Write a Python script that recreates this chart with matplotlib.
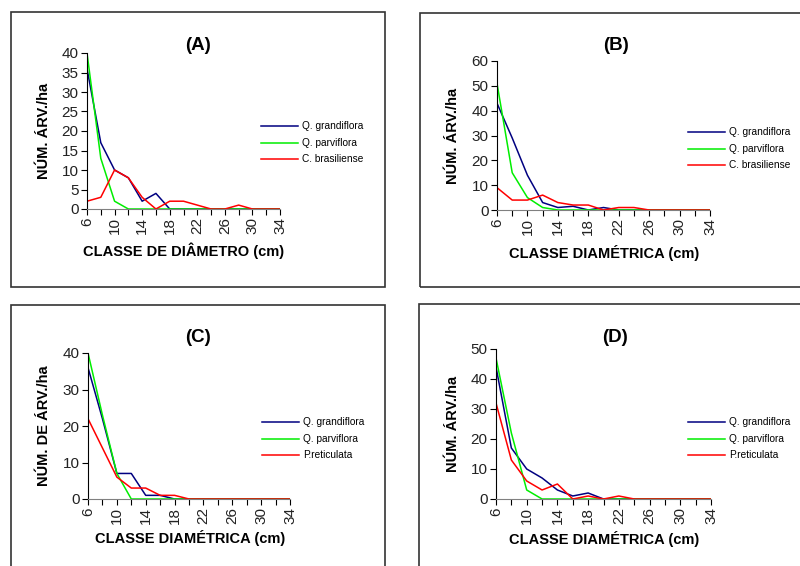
import matplotlib.pyplot as plt
from matplotlib.patches import Rectangle

plt.rcParams['font.family'] = ['Liberation Sans', 'DejaVu Sans']

classes = [6, 8, 10, 12, 14, 16, 18, 20, 22, 24, 26, 28, 30, 32, 34]
tick_labels = [str(c) if i % 2 == 0 else '' for i, c in enumerate(classes)]

# (A)
a_grandiflora = [36, 17, 10, 8, 2, 4, 0, 0, 0, 0, 0, 0, 0, 0, 0]
a_parviflora = [40, 13, 2, 0, 0, 0, 0, 0, 0, 0, 0, 0, 0, 0, 0]
a_brasiliense = [2, 3, 10, 8, 3, 0, 2, 2, 1, 0, 0, 1, 0, 0, 0]
# (B)
b_grandiflora = [43, 29, 14, 3, 1, 1.5, 0, 1, 0, 0, 0, 0, 0, 0, 0]
b_parviflora = [51, 15, 5, 1, 0, 0, 0, 0, 0, 0, 0, 0, 0, 0, 0]
b_brasiliense = [9, 4, 4, 6, 3, 2, 2, 0, 1, 1, 0, 0, 0, 0, 0]
# (C)
c_grandiflora = [36, 22, 7, 7, 1, 1, 0, 0, 0, 0, 0, 0, 0, 0, 0]
c_parviflora = [40, 23, 7, 0, 0, 0, 0, 0, 0, 0, 0, 0, 0, 0, 0]
c_reticulata = [22, 14, 6, 3, 3, 1, 1, 0, 0, 0, 0, 0, 0, 0, 0]
# (D)
d_grandiflora = [44, 17, 10, 7, 3, 1, 2, 0, 0, 0, 0, 0, 0, 0, 0]
d_parviflora = [47, 22, 3, 0, 0, 0, 0, 0, 0, 0, 0, 0, 0, 0, 0]
d_reticulata = [32, 13, 6, 3, 5, 0, 1, 0, 1, 0, 0, 0, 0, 0, 0]

W, H = 800, 566
colors = ['#000080', '#00ee00', '#ff0000']

panels = [
    dict(title='(A)', series=[a_grandiflora, a_parviflora, a_brasiliense],
         names=['Q. grandiflora', 'Q. parviflora', 'C. brasiliense'],
         ymax=40, ystep=5, ylabel='NÚM. ÁRV./ha', xlabel='CLASSE DE DIÂMETRO (cm)',
         ax=(87, 53, 280, 209), box=(11, 12, 385, 287), leg=(261, 126),
         tpos=(198, 45), xlpos=(184, 251), ylx=44),
    dict(title='(B)', series=[b_grandiflora, b_parviflora, b_brasiliense],
         names=['Q. grandiflora', 'Q. parviflora', 'C. brasiliense'],
         ymax=60, ystep=10, ylabel='NÚM. ÁRV./ha', xlabel='CLASSE DIAMÉTRICA (cm)',
         ax=(497, 61, 710, 210), box=(420, 13, 810, 287), leg=(688, 132),
         tpos=(616, 45), xlpos=(604, 253), ylx=453),
    dict(title='(C)', series=[c_grandiflora, c_parviflora, c_reticulata],
         names=['Q. grandiflora', 'Q. parviflora', 'P.reticulata'],
         ymax=40, ystep=10, ylabel='NÚM. DE ÁRV./ha', xlabel='CLASSE DIAMÉTRICA (cm)',
         ax=(88, 353, 290, 499), box=(11, 305, 385, 580), leg=(262, 422),
         tpos=(198, 337), xlpos=(190, 538), ylx=44),
    dict(title='(D)', series=[d_grandiflora, d_parviflora, d_reticulata],
         names=['Q. grandiflora', 'Q. parviflora', 'P.reticulata'],
         ymax=50, ystep=10, ylabel='NÚM. ÁRV./ha', xlabel='CLASSE DIAMÉTRICA (cm)',
         ax=(496, 349, 711, 499), box=(419, 304, 810, 580), leg=(688, 422),
         tpos=(615, 337), xlpos=(604, 539), ylx=453),
]

fig = plt.figure(figsize=(W / 100, H / 100), dpi=100)


def fx(px):
    return px / W


def fy(py):
    return 1 - py / H


for p in panels:
    x0, y0, x1, y1 = p['box']
    fig.patches.append(Rectangle((fx(x0), fy(y1)), fx(x1 - x0), (y1 - y0) / H,
                                 transform=fig.transFigure, fill=False,
                                 edgecolor='#333333', linewidth=1.2))

    l, t, r, b = p['ax']
    ax = fig.add_axes([fx(l), fy(b), fx(r - l), (b - t) / H])
    x = range(len(classes))
    for vals, c in zip(p['series'], colors):
        ax.plot(x, vals, color=c, linewidth=1.1)
    ax.set_xlim(0, len(classes) - 1)
    ax.set_ylim(0, p['ymax'])
    ax.set_yticks(range(0, p['ymax'] + 1, p['ystep']))
    ax.set_xticks(list(x))
    ax.set_xticklabels(tick_labels, rotation=90)
    ax.tick_params(axis='both', labelsize=11, length=4, width=0.8, pad=2,
                   labelcolor='#222222')
    ax.spines['top'].set_visible(False)
    ax.spines['right'].set_visible(False)
    ax.spines['bottom'].set_color('#808080')
    ax.patch.set_alpha(0)

    fig.text(fx(p['tpos'][0]), fy(p['tpos'][1]), p['title'], ha='center', va='center',
             fontsize=13.5, fontweight='bold')
    fig.text(fx(p['xlpos'][0]), fy(p['xlpos'][1]), p['xlabel'], ha='center', va='center',
             fontsize=10.5, fontweight='bold')
    fig.text(fx(p['ylx']), fy((t + b) / 2), p['ylabel'], ha='center', va='center',
             rotation=90, fontsize=10.5, fontweight='bold')

    lx, ly = p['leg']
    for i, (name, c) in enumerate(zip(p['names'], colors)):
        yy = fy(ly + i * 16.5)
        fig.add_artist(plt.Line2D([fx(lx), fx(lx + 37)], [yy, yy], color=c,
                                  linewidth=1.1, transform=fig.transFigure))
        fig.text(fx(lx + 41), yy, name, ha='left', va='center', fontsize=7.3)

fig.savefig('out.png', dpi=100)
